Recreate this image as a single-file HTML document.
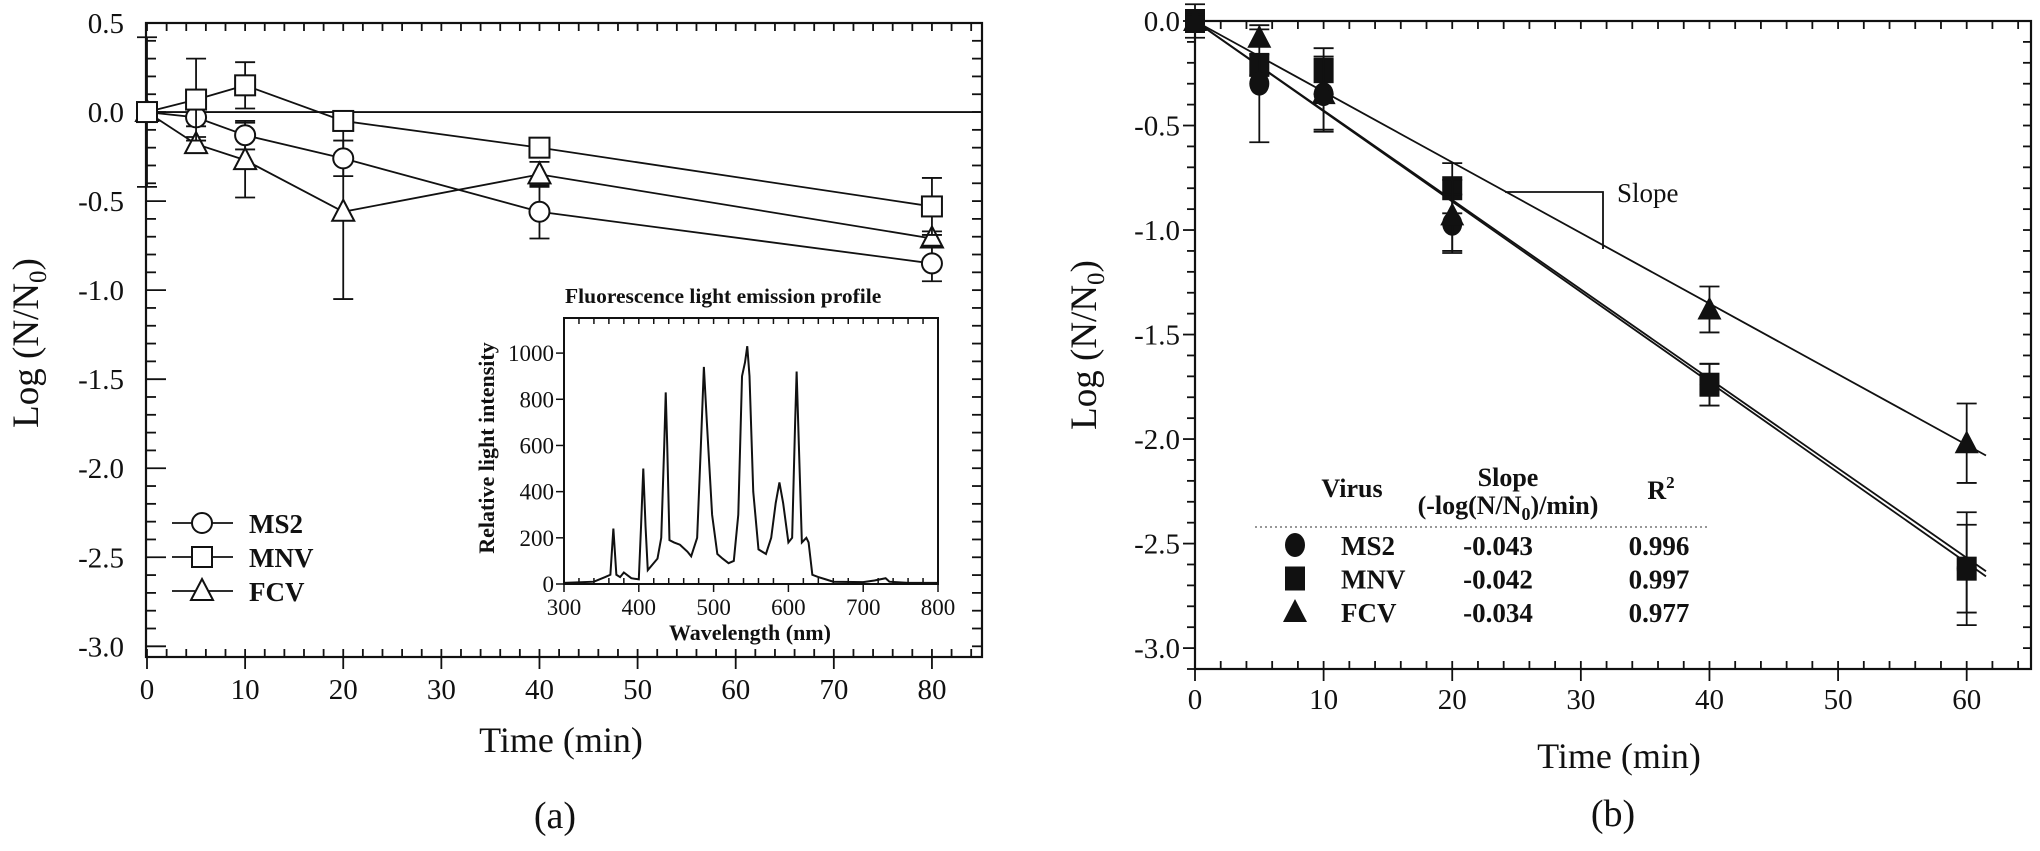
<!DOCTYPE html>
<html><head><meta charset="utf-8">
<style>
html,body{margin:0;padding:0;background:#fff;}
svg{display:block;}
text{font-family:"Liberation Serif",serif;fill:#111;}
</style></head>
<body>
<svg id="fig" width="2040" height="851" viewBox="0 0 2040 851" xmlns="http://www.w3.org/2000/svg">
<g id="A"></g>
<g id="I"></g>
<g id="B"></g>
</svg>
<script>
// ===== Panel (a) data =====
const aTimes = [0, 5, 10, 20, 40, 80];
const aMS2 = [0, -0.03, -0.13, -0.26, -0.56, -0.85];
const aMS2Err = [0.42, 0.05, 0.08, 0.1, 0.15, 0.1];
const aMNV = [0, 0.07, 0.15, -0.05, -0.20, -0.53];
const aMNVErr = [0.02, 0.23, 0.13, 0.05, 0.02, 0.16];
const aFCV = [0, -0.18, -0.27, -0.56, -0.35, -0.71];
const aFCVErr = [0.02, 0.04, 0.21, 0.49, 0.07, 0.04];
const aXTicks = [0, 10, 20, 30, 40, 50, 60, 70, 80];
const aYTicks = [0.5, 0.0, -0.5, -1.0, -1.5, -2.0, -2.5, -3.0];

// ===== Inset data =====
const specNm = [300,340,355,362,366,370,375,380,390,400,403,406,409,412,425,430,434,436,438,441,447,455,465,470,478,483,487,491,498,505,512,520,527,533,538,542,545,548,553,560,570,577,583,588,593,600,605,609,611,614,618,624,627,632,640,650,660,700,715,730,735,760,800];
const specI = [5,10,30,40,240,40,30,50,25,20,250,500,250,60,110,200,600,830,600,190,180,170,140,120,200,600,940,700,300,130,110,90,100,300,900,960,1030,900,400,150,130,200,350,440,350,180,200,700,920,600,180,200,180,40,30,20,10,8,15,25,10,5,5];
const inXTicks = [300, 400, 500, 600, 700, 800];
const inYTicks = [0, 200, 400, 600, 800, 1000];

// ===== Panel (b) data =====
const bTimes = [0, 5, 10, 20, 40, 60];
const bMS2 = [0, -0.30, -0.35, -0.97, -1.74, -2.62];
const bMS2Err = [0.08, 0.28, 0.18, 0.14, 0.1, 0.27];
const bMNV = [0, -0.21, -0.24, -0.80, -1.74, -2.62];
const bMNVErr = [0.04, 0.05, 0.11, 0.12, 0.1, 0.21];
const bFCV = [0, -0.08, -0.35, -0.93, -1.38, -2.02];
const bFCVErr = [0.03, 0.04, 0.17, 0.17, 0.11, 0.19];
const bSlopes = [-0.0432, -0.0428, -0.0338];
const bSlopeLabels = ["-0.043", "-0.042", "-0.034"];
const bR2Labels = ["0.996", "0.997", "0.977"];
const bVirus = ["MS2", "MNV", "FCV"];
const bXTicks = [0, 10, 20, 30, 40, 50, 60];
const bYTicks = [0.0, -0.5, -1.0, -1.5, -2.0, -2.5, -3.0];

const NS = "http://www.w3.org/2000/svg";
function mk(parent, tag, attrs, txt) {
  const e = document.createElementNS(NS, tag);
  for (const k in attrs) e.setAttribute(k, attrs[k]);
  if (txt !== undefined) e.textContent = txt;
  parent.appendChild(e);
  return e;
}
function lin(d0, d1, r0, r1) { return v => r0 + (v - d0) * (r1 - r0) / (d1 - d0); }

// ===================== PANEL A =====================
const A = document.getElementById('A');
const ax = lin(0, 85, 147, 981);
const ay = lin(0.5, -3.06, 23, 657);
let r;
r = mk(A, 'rect', {x:146, y:23, width:836, height:634, fill:'none', stroke:'#111', 'stroke-width':2.2});


for (let t = 0; t <= 84; t += 2) {
  const X = ax(t); const major = t % 10 === 0;
  mk(A, 'line', {x1:X, x2:X, y1:657, y2: major ? 669 : 649, stroke:'#111', 'stroke-width':1.8});
  if (major) mk(A, 'line', {x1:X, x2:X, y1:657, y2:649, stroke:'#111', 'stroke-width':1.8});
  mk(A, 'line', {x1:X, x2:X, y1:23, y2:31, stroke:'#111', 'stroke-width':1.8});
}
for (let i = 5; i >= -30; i--) {
  const v = i / 10; const Y = ay(v);
  const major = i % 5 === 0;
  mk(A, 'line', {x1:146, x2: major ? 166 : 156, y1:Y, y2:Y, stroke:'#111', 'stroke-width':1.8});
  mk(A, 'line', {x1:982, x2:972, y1:Y, y2:Y, stroke:'#111', 'stroke-width':1.8});
}
aXTicks.forEach(t => {
  r = mk(A, 'text', {x:ax(t), y:699, 'font-size':29, 'text-anchor':'middle'}, String(t));
  
  
});
aYTicks.forEach(v => {
  r = mk(A, 'text', {x:124, y:ay(v) + 10, 'font-size':29, 'text-anchor':'end'}, v.toFixed(1));
  
  
});
r = mk(A, 'text', {x:561, y:752, 'font-size':36, 'text-anchor':'middle'}, 'Time (min)');


r = mk(A, 'text', {x:555, y:828, 'font-size':38, 'text-anchor':'middle'}, '(a)');


r = mk(A, 'text', {x:0, y:0, 'font-size':37, 'text-anchor':'middle', transform:'translate(38,343) rotate(-90)'});


r.innerHTML = 'Log (N/N<tspan font-size="25" dy="8">0</tspan><tspan dy="-8">)</tspan>';
r = mk(A, 'line', {x1:ax(0), x2:982, y1:ay(0), y2:ay(0), stroke:'#111', 'stroke-width':1.8});



function openMarker(g, kind, X, Y) {
  if (kind === 'circle') return mk(g, 'circle', {cx:X, cy:Y, r:10, fill:'#fff', stroke:'#111', 'stroke-width':2});
  if (kind === 'square') return mk(g, 'rect', {x:X-10, y:Y-10, width:20, height:20, fill:'#fff', stroke:'#111', 'stroke-width':2});
  return mk(g, 'polygon', {points:`${X},${Y-12} ${X+11},${Y+9} ${X-11},${Y+9}`, fill:'#fff', stroke:'#111', 'stroke-width':2});
}
const aSeries = [
  {name:'fcv', vals:aFCV, err:aFCVErr, kind:'triangle'},
  {name:'ms2', vals:aMS2, err:aMS2Err, kind:'circle'},
  {name:'mnv', vals:aMNV, err:aMNVErr, kind:'square'}
];
aSeries.forEach(s => {
  const g = mk(A, 'g', {});
  
  
  const pts = aTimes.map((t, i) => ax(t) + ',' + ay(s.vals[i])).join(' ');
  mk(g, 'polyline', {points:pts, fill:'none', stroke:'#111', 'stroke-width':1.8});
  aTimes.forEach((t, i) => {
    const X = ax(t), y1 = ay(s.vals[i] + s.err[i]), y2 = ay(s.vals[i] - s.err[i]);
    const eb = mk(g, 'path', {d:`M${X},${y1}V${y2}M${X-10},${y1}H${X+10}M${X-10},${y2}H${X+10}`, stroke:'#111', 'stroke-width':1.8, fill:'none'});
    
    
  });
  aTimes.forEach((t, i) => {
    const m = openMarker(g, s.kind, ax(t), ay(s.vals[i]));
    
    
  });
});
const legNames = ['MS2', 'MNV', 'FCV'];
const legKinds = ['circle', 'square', 'triangle'];
legNames.forEach((n, i) => {
  const Y = 523 + i * 34;
  const g = mk(A, 'g', {});
  
  
  mk(g, 'line', {x1:172, x2:233, y1:Y, y2:Y, stroke:'#111', 'stroke-width':1.8});
  openMarker(g, legKinds[i], 202, Y);
  mk(g, 'text', {x:249, y:Y + 10, 'font-size':27, 'font-weight':'bold'}, n);
});

// ===================== INSET =====================
const I = document.getElementById('I');
const ix = lin(300, 800, 564, 938);
const iy = lin(0, 1152, 584, 318);
r = mk(I, 'rect', {x:564, y:318, width:374, height:266, fill:'none', stroke:'#111', 'stroke-width':2});


for (let t = 300; t <= 800; t += 20) {
  const X = ix(t);
  mk(I, 'line', {x1:X, x2:X, y1:584, y2: t % 100 === 0 ? 592 : 578, stroke:'#111', 'stroke-width':1.5});
  mk(I, 'line', {x1:X, x2:X, y1:318, y2:324, stroke:'#111', 'stroke-width':1.5});
}
inYTicks.forEach(v => { mk(I, 'line', {x1:556, x2:564, y1:iy(v), y2:iy(v), stroke:'#111', 'stroke-width':1.5}); });
inXTicks.forEach(t => {
  r = mk(I, 'text', {x:ix(t), y:615, 'font-size':23, 'text-anchor':'middle'}, String(t));
  
  
});
inYTicks.forEach(v => {
  r = mk(I, 'text', {x:554, y:iy(v) + 8, 'font-size':23, 'text-anchor':'end'}, String(v));
  
  
});
r = mk(I, 'text', {x:750, y:640, 'font-size':22, 'font-weight':'bold', 'text-anchor':'middle'}, 'Wavelength (nm)');


r = mk(I, 'text', {x:0, y:0, 'font-size':22, 'font-weight':'bold', 'text-anchor':'middle', transform:'translate(494,448) rotate(-90)'}, 'Relative light intensity');


r = mk(I, 'text', {x:565, y:303, 'font-size':21.5, 'font-weight':'bold'}, 'Fluorescence light emission profile');


r = mk(I, 'polyline', {points: specNm.map((n, i) => ix(n) + ',' + iy(specI[i])).join(' '), fill:'none', stroke:'#111', 'stroke-width':2});



// ===================== PANEL B =====================
const B = document.getElementById('B');
const bx = lin(0, 65, 1195, 2031);
const by = lin(0, -3.1, 21, 669);
r = mk(B, 'rect', {x:1195, y:21, width:836, height:648, fill:'none', stroke:'#111', 'stroke-width':2.2});


for (let t = 0; t <= 64; t += 2) {
  const X = bx(t); const major = t % 10 === 0;
  mk(B, 'line', {x1:X, x2:X, y1: major ? 681 : 669, y2:661, stroke:'#111', 'stroke-width':1.8});
  mk(B, 'line', {x1:X, x2:X, y1:21, y2:29, stroke:'#111', 'stroke-width':1.8});
}
for (let i = 0; i >= -31; i--) {
  const Y = by(i / 10); const major = i % 5 === 0;
  mk(B, 'line', {x1: major ? 1183 : 1187, x2:1195, y1:Y, y2:Y, stroke:'#111', 'stroke-width':1.8});
  mk(B, 'line', {x1:2031, x2:2023, y1:Y, y2:Y, stroke:'#111', 'stroke-width':1.8});
}
bXTicks.forEach(t => {
  r = mk(B, 'text', {x:bx(t), y:709, 'font-size':29, 'text-anchor':'middle'}, String(t));
  
  
});
bYTicks.forEach(v => {
  r = mk(B, 'text', {x:1180, y:by(v) + 10, 'font-size':29, 'text-anchor':'end'}, v.toFixed(1));
  
  
});
r = mk(B, 'text', {x:1619, y:768, 'font-size':36, 'text-anchor':'middle'}, 'Time (min)');


r = mk(B, 'text', {x:1613, y:826, 'font-size':38, 'text-anchor':'middle'}, '(b)');


r = mk(B, 'text', {x:0, y:0, 'font-size':37, 'text-anchor':'middle', transform:'translate(1096,345) rotate(-90)'});


r.innerHTML = 'Log (N/N<tspan font-size="25" dy="8">0</tspan><tspan dy="-8">)</tspan>';

bSlopes.forEach((s, i) => {
  const l = mk(B, 'line', {x1:bx(0), y1:by(0), x2:bx(61.5), y2:by(s * 61.5), stroke:'#111', 'stroke-width':1.8});
  
  
});
function filledMarker(g, kind, X, Y) {
  if (kind === 'circle') return mk(g, 'ellipse', {cx:X, cy:Y, rx:10, ry:12, fill:'#111'});
  if (kind === 'square') return mk(g, 'rect', {x:X-10, y:Y-12, width:20, height:24, fill:'#111'});
  return mk(g, 'polygon', {points:`${X},${Y-13} ${X+12},${Y+10} ${X-12},${Y+10}`, fill:'#111'});
}
const bSeries = [
  {name:'mnv', vals:bMNV, err:bMNVErr, kind:'square'},
  {name:'ms2', vals:bMS2, err:bMS2Err, kind:'circle'},
  {name:'fcv', vals:bFCV, err:bFCVErr, kind:'triangle'}
];
bSeries.forEach(s => {
  const g = mk(B, 'g', {});
  
  
  bTimes.forEach((t, i) => {
    const X = bx(t), y1 = by(s.vals[i] + s.err[i]), y2 = by(s.vals[i] - s.err[i]);
    const eb = mk(g, 'path', {d:`M${X},${y1}V${y2}M${X-10},${y1}H${X+10}M${X-10},${y2}H${X+10}`, stroke:'#111', 'stroke-width':1.8, fill:'none'});
    
    
    const m = filledMarker(g, s.kind, X, by(s.vals[i]));
    
    
  });
});
r = mk(B, 'path', {d:'M1505,192H1603V249', fill:'none', stroke:'#111', 'stroke-width':1.8});


r = mk(B, 'text', {x:1617, y:202, 'font-size':27}, 'Slope');


const tb = mk(B, 'g', {});


mk(tb, 'text', {x:1352, y:497, 'font-size':26, 'font-weight':'bold', 'text-anchor':'middle'}, 'Virus');
mk(tb, 'text', {x:1508, y:486, 'font-size':26, 'font-weight':'bold', 'text-anchor':'middle'}, 'Slope');
const sub = mk(tb, 'text', {x:1508, y:514, 'font-size':26, 'font-weight':'bold', 'text-anchor':'middle'});
sub.innerHTML = '(-log(N/N<tspan font-size="18" dy="6">0</tspan><tspan dy="-6">)/min)</tspan>';
const r2 = mk(tb, 'text', {x:1661, y:499, 'font-size':26, 'font-weight':'bold', 'text-anchor':'middle'});
r2.innerHTML = 'R<tspan font-size="17" dy="-11">2</tspan>';
mk(tb, 'line', {x1:1255, x2:1709, y1:527, y2:527, stroke:'#777', 'stroke-width':1.5, 'stroke-dasharray':'2,3'});
const tKinds = ['circle', 'square', 'triangle'];
bVirus.forEach((n, i) => {
  const Y = 545 + i * 33.5;
  const row = mk(tb, 'g', {});
  
  
  filledMarker(row, tKinds[i], 1295, Y);
  mk(row, 'text', {x:1341, y:Y + 10, 'font-size':27, 'font-weight':'bold'}, n);
  mk(row, 'text', {x:1498, y:Y + 10, 'font-size':27, 'font-weight':'bold', 'text-anchor':'middle'}, bSlopeLabels[i]);
  mk(row, 'text', {x:1659, y:Y + 10, 'font-size':27, 'font-weight':'bold', 'text-anchor':'middle'}, bR2Labels[i]);
});
</script>
</body></html>
